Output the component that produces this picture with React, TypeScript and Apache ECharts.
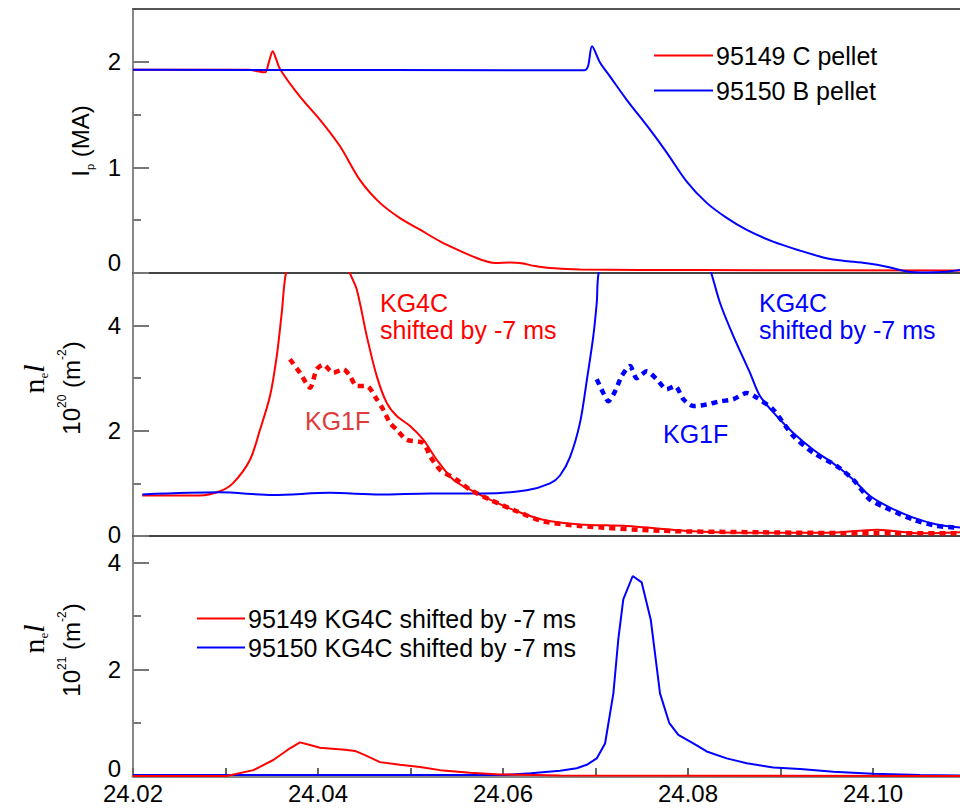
import React, { useEffect, useRef } from 'react';
import * as echarts from 'echarts';

const X_MIN = 24.02;
const X_MAX = 24.1094;
const xTickValues = [24.02, 24.03, 24.04, 24.05, 24.06, 24.07, 24.08, 24.09, 24.1];
const xLabelValues = [24.02, 24.04, 24.06, 24.08, 24.1];

const legendTop = ['95149 C pellet', '95150 B pellet'];
const legendBottom = ['95149 KG4C shifted by -7 ms', '95150 KG4C shifted by -7 ms'];

// Panel 1: plasma current (MA)
const ipC: [number, number][] = [
  [24.02, 1.925], [24.0326, 1.925], [24.0335, 1.91], [24.03427, 1.9], [24.0347, 2.0],
  [24.0351, 2.1], [24.03546, 2.03], [24.0359, 1.93], [24.03805, 1.67], [24.04022, 1.45],
  [24.04238, 1.2], [24.04454, 0.88], [24.0467, 0.664], [24.04886, 0.52], [24.05103, 0.41],
  [24.05319, 0.3], [24.05535, 0.21], [24.05751, 0.13], [24.05914, 0.095], [24.06076, 0.1],
  [24.06184, 0.095], [24.06346, 0.066], [24.06508, 0.047], [24.06832, 0.033], [24.0813, 0.028],
  [24.1094, 0.024],
];
const ipB: [number, number][] = [
  [24.02, 1.925], [24.0688, 1.92], [24.0692, 1.96], [24.06962, 2.147], [24.0705, 1.99],
  [24.07157, 1.86], [24.07337, 1.64], [24.07589, 1.357], [24.0777, 1.14], [24.07986, 0.866],
  [24.08202, 0.664], [24.08418, 0.522], [24.08635, 0.408], [24.08919, 0.297], [24.09211, 0.212],
  [24.09499, 0.139], [24.09676, 0.117], [24.09932, 0.092], [24.10148, 0.06], [24.10364, 0.015],
  [24.10581, 0.005], [24.10797, 0.012], [24.1094, 0.028],
];

// Panel 2: line density 10^20 m^-2
const kg4cC: [number, number][] = [
  [24.021, 0.77], [24.0272, 0.77], [24.0294, 0.85], [24.03084, 1.01], [24.03265, 1.45],
  [24.03373, 2.02], [24.03481, 2.66], [24.03554, 3.42], [24.03608, 4.24], [24.03662, 5.07],
  [24.04, 7.0], [24.04328, 5.07], [24.04418, 4.69], [24.04527, 3.8], [24.04635, 3.04],
  [24.04743, 2.53], [24.04851, 2.28], [24.04995, 2.09], [24.05138, 1.83], [24.05284, 1.45],
  [24.05463, 1.07], [24.05643, 0.88], [24.05859, 0.69], [24.06148, 0.47], [24.06432, 0.31],
  [24.06832, 0.22], [24.07337, 0.19], [24.08054, 0.09], [24.08778, 0.06], [24.095, 0.06],
  [24.1004, 0.12], [24.10508, 0.05], [24.1094, 0.07],
];
const kg4cB: [number, number][] = [
  [24.021, 0.79], [24.02941, 0.83], [24.03514, 0.78], [24.0413, 0.82], [24.0467, 0.79],
  [24.05211, 0.81], [24.05784, 0.81], [24.06256, 0.87], [24.06508, 1.0], [24.06616, 1.15],
  [24.06724, 1.5], [24.06832, 2.15], [24.06905, 2.95], [24.06976, 3.8], [24.07013, 4.43],
  [24.07041, 5.07], [24.0764, 8.0], [24.08238, 5.07], [24.08346, 4.43], [24.0849, 3.8],
  [24.0867, 3.1], [24.08778, 2.66], [24.08959, 2.28], [24.09138, 1.96], [24.09355, 1.64],
  [24.09608, 1.33], [24.09787, 1.07], [24.09968, 0.76], [24.10184, 0.54], [24.10436, 0.35],
  [24.10689, 0.22], [24.1094, 0.16],
];
const kg1fC: [number, number][] = [
  [24.03697, 3.36], [24.03805, 3.1], [24.03914, 2.82], [24.03986, 3.17], [24.04057, 3.26],
  [24.04165, 3.1], [24.04274, 3.17], [24.04346, 3.04], [24.04418, 2.85], [24.04527, 2.85],
  [24.04635, 2.6], [24.04706, 2.4], [24.04778, 2.15], [24.04851, 2.02], [24.04959, 1.83],
  [24.05138, 1.77], [24.05211, 1.52], [24.05319, 1.26], [24.05499, 1.07], [24.05643, 0.88],
  [24.05859, 0.69], [24.06148, 0.47], [24.06432, 0.28], [24.06832, 0.19], [24.07697, 0.1],
  [24.08778, 0.07], [24.10216, 0.05], [24.1094, 0.05],
];
const kg1fB: [number, number][] = [
  [24.07013, 2.98], [24.07084, 2.72], [24.07138, 2.56], [24.07211, 2.75], [24.07283, 3.04],
  [24.07373, 3.23], [24.07445, 3.0], [24.07554, 3.13], [24.07662, 2.98], [24.0777, 2.79],
  [24.0786, 2.85], [24.0795, 2.6], [24.08055, 2.47], [24.08202, 2.5], [24.08346, 2.56],
  [24.0849, 2.6], [24.08635, 2.72], [24.08743, 2.63], [24.08922, 2.4], [24.09138, 1.9],
  [24.09355, 1.58], [24.09608, 1.33], [24.09787, 1.07], [24.09968, 0.69], [24.10184, 0.5],
  [24.10436, 0.31], [24.10689, 0.19], [24.10905, 0.16],
];

// Panel 3: line density 10^21 m^-2
const kg4cC21: [number, number][] = [
  [24.02, 0], [24.03013, 0], [24.03301, 0.11], [24.03517, 0.3], [24.03697, 0.52],
  [24.03805, 0.63], [24.03914, 0.58], [24.04022, 0.53], [24.04292, 0.49], [24.044, 0.47],
  [24.04508, 0.39], [24.0467, 0.26], [24.04886, 0.21], [24.05103, 0.17], [24.05319, 0.11],
  [24.05643, 0.06], [24.05968, 0.03], [24.06616, 0.01], [24.1094, 0],
];
const kg4cB21: [number, number][] = [
  [24.02, 0.02], [24.06, 0.02], [24.063, 0.05], [24.06616, 0.1], [24.06797, 0.145],
  [24.06905, 0.21], [24.07013, 0.33], [24.07103, 0.61], [24.07193, 1.55], [24.07246, 2.56],
  [24.073, 3.31], [24.07402, 3.75], [24.07499, 3.63], [24.07597, 2.93], [24.07697, 1.55],
  [24.07798, 0.99], [24.07895, 0.77], [24.08057, 0.61], [24.08202, 0.46], [24.08418, 0.33],
  [24.08635, 0.24], [24.08922, 0.16], [24.09211, 0.13], [24.09571, 0.08], [24.1, 0.04],
  [24.10508, 0.02], [24.1094, 0.01],
];

const FONT = 'Liberation Sans, Arial, sans-serif';
const SERIF = 'Liberation Serif, Times New Roman, serif';
const RED = '#ff0000';
const BLUE = '#0000ff';

export default function App() {
  const ref = useRef<HTMLDivElement>(null);
  useEffect(() => {
    if (!ref.current) return;
    const chart = echarts.init(ref.current, undefined, { renderer: 'svg' });
    const grids = [
      { left: 133, right: 0, top: 9, height: 264 },
      { left: 133, right: 0, top: 273, height: 263 },
      { left: 133, right: 0, top: 536, height: 240 },
    ];
    const yCfg = [
      { max: 2.5, major: [0, 1, 2], minor: [0.5, 1.5], zeroPad: 22 },
      { max: 5, major: [0, 2, 4], minor: [1, 3], zeroPad: 4 },
      { max: 4.5, major: [0, 2, 4], minor: [1, 3], zeroPad: 16 },
    ];
    const xAxes: any[] = grids.map((_, i) => ({
      type: 'value', gridIndex: i, min: X_MIN, max: X_MAX, position: 'bottom',
      axisLine: { show: true, onZero: false, lineStyle: { color: i === 2 ? '#888' : '#444', width: i === 2 ? 3 : 2 } },
      axisTick: { show: i === 2, inside: true, length: 8, customValues: xTickValues, lineStyle: { color: '#666', width: 2 } },
      axisLabel: {
        show: i === 2, customValues: xLabelValues, margin: 5,
        formatter: (v: number) => v.toFixed(2), fontSize: 24, color: '#000', fontFamily: FONT,
      },
      splitLine: { show: false },
    }));
    xAxes.push({
      type: 'value', gridIndex: 0, min: X_MIN, max: X_MAX, position: 'top',
      axisLine: { show: true, onZero: false, lineStyle: { color: '#555', width: 2 } },
      axisTick: { show: false }, axisLabel: { show: false }, splitLine: { show: false },
    });
    const yAxes: any[] = [];
    yCfg.forEach((c, i) => {
      yAxes.push({
        type: 'value', gridIndex: i, min: 0, max: c.max, position: 'left',
        axisLine: { show: true, onZero: false, lineStyle: { color: '#888', width: 2 } },
        axisTick: { show: true, inside: true, length: 16, customValues: c.major, lineStyle: { color: '#777', width: 2 } },
        axisLabel: {
          show: true, customValues: c.major, margin: 12, fontSize: 24, color: '#000', fontFamily: FONT,
          formatter: (v: number) => (v === 0 ? '{z|0}' : String(v)),
          rich: { z: { fontSize: 24, fontFamily: FONT, color: '#000', padding: [0, 0, c.zeroPad, 0] } },
        },
        splitLine: { show: false },
      });
      yAxes.push({
        type: 'value', gridIndex: i, min: 0, max: c.max, position: 'left',
        axisLine: { show: false },
        axisTick: { show: true, inside: true, length: 8, customValues: c.minor, lineStyle: { color: '#777', width: 2 } },
        axisLabel: { show: false },
        splitLine: { show: false },
      });
    });
    const solid = (name: string, data: [number, number][], color: string, xi: number, yi: number, smooth: any = 0.3) => ({
      type: 'line', name, data, xAxisIndex: xi, yAxisIndex: yi, symbol: 'none', showSymbol: false, smooth,
      lineStyle: { color, width: 2 }, itemStyle: { color }, clip: true,
    });
    const dashed = (name: string, data: [number, number][], color: string) => ({
      type: 'line', name, data, xAxisIndex: 1, yAxisIndex: 2, symbol: 'none', showSymbol: false, smooth: 0.25,
      lineStyle: { color, width: 4.5, type: [6, 5] }, itemStyle: { color }, clip: true,
    });
    const sup = (fs: number) => ({ fontSize: fs, fontFamily: FONT, color: '#000', verticalAlign: 'top', lineHeight: fs });
    const main = (fs: number, lh: number) => ({ fontSize: fs, fontFamily: FONT, color: '#000', lineHeight: lh });
    const annot = (x: number, y: number, text: string, color: string) => ({
      type: 'text', x, y, style: { text, fill: color, font: `25px ${FONT}`, align: 'left', verticalAlign: 'middle' },
    });
    const neL = (x: number, y: number) => ({
      type: 'text', x, y, rotation: Math.PI / 2,
      style: {
        text: '{n|n}{e|e}{l|l}', align: 'center', verticalAlign: 'middle',
        rich: {
          n: { fontSize: 30, fontFamily: SERIF, color: '#000', lineHeight: 34 },
          e: { fontSize: 13, fontFamily: SERIF, color: '#000', lineHeight: 13, verticalAlign: 'bottom' },
          l: { fontSize: 30, fontFamily: SERIF, fontStyle: 'italic', fontWeight: 'normal', color: '#000', lineHeight: 34 },
        },
      },
    });
    const tenPow = (x: number, y: number, p: string) => ({
      type: 'text', x, y, rotation: Math.PI / 2,
      style: {
        text: `{a|10}{s|${p}}{a| (m}{s|-2}{a|)}`, align: 'center', verticalAlign: 'middle',
        rich: { a: main(24, 30), s: sup(12) },
      },
    });
    const legendCommon = {
      orient: 'vertical', icon: 'rect', itemHeight: 2, selectedMode: false,
      textStyle: { fontSize: 25, lineHeight: 25, color: '#000', fontFamily: FONT, padding: [0, 0, 0, -2] },
    };
    chart.setOption({
      animation: false,
      backgroundColor: '#fff',
      grid: grids,
      xAxis: xAxes,
      yAxis: yAxes,
      legend: [
        { ...legendCommon, data: legendTop, left: 649, top: 38, itemWidth: 59, itemGap: 10 },
        { ...legendCommon, data: legendBottom, left: 192, top: 601, itemWidth: 48, itemGap: 4 },
      ],
      series: [
        solid(legendTop[0], ipC, RED, 0, 0),
        solid(legendTop[1], ipB, BLUE, 0, 0),
        solid('95149 KG4C', kg4cC, RED, 1, 2),
        solid('95150 KG4C', kg4cB, BLUE, 1, 2),
        dashed('95149 KG1F', kg1fC, RED),
        dashed('95150 KG1F', kg1fB, BLUE),
        solid(legendBottom[1], kg4cB21, BLUE, 2, 4, false),
        solid(legendBottom[0], kg4cC21, RED, 2, 4, false),
      ],
      graphic: [
        {
          type: 'text', x: 80, y: 141, rotation: Math.PI / 2,
          style: {
            text: '{a|I}{s|p}{a| (MA)}', align: 'center', verticalAlign: 'middle',
            rich: {
              a: main(24, 30),
              s: { fontSize: 11, fontFamily: FONT, color: '#000', lineHeight: 11, verticalAlign: 'bottom' },
            },
          },
        },
        neL(33, 379),
        tenPow(71, 388, '20'),
        neL(33, 639),
        tenPow(71, 650, '21'),
        annot(380, 303, 'KG4C', RED),
        annot(380, 330, 'shifted by -7 ms', RED),
        annot(305, 421, 'KG1F', '#e03a3a'),
        annot(759, 303, 'KG4C', BLUE),
        annot(759, 330, 'shifted by -7 ms', BLUE),
        annot(663, 434, 'KG1F', BLUE),
      ],
    });
    return () => chart.dispose();
  }, []);
  return <div ref={ref} style={{ position: 'fixed', left: 0, top: 0, width: 960, height: 809 }} />;
}
